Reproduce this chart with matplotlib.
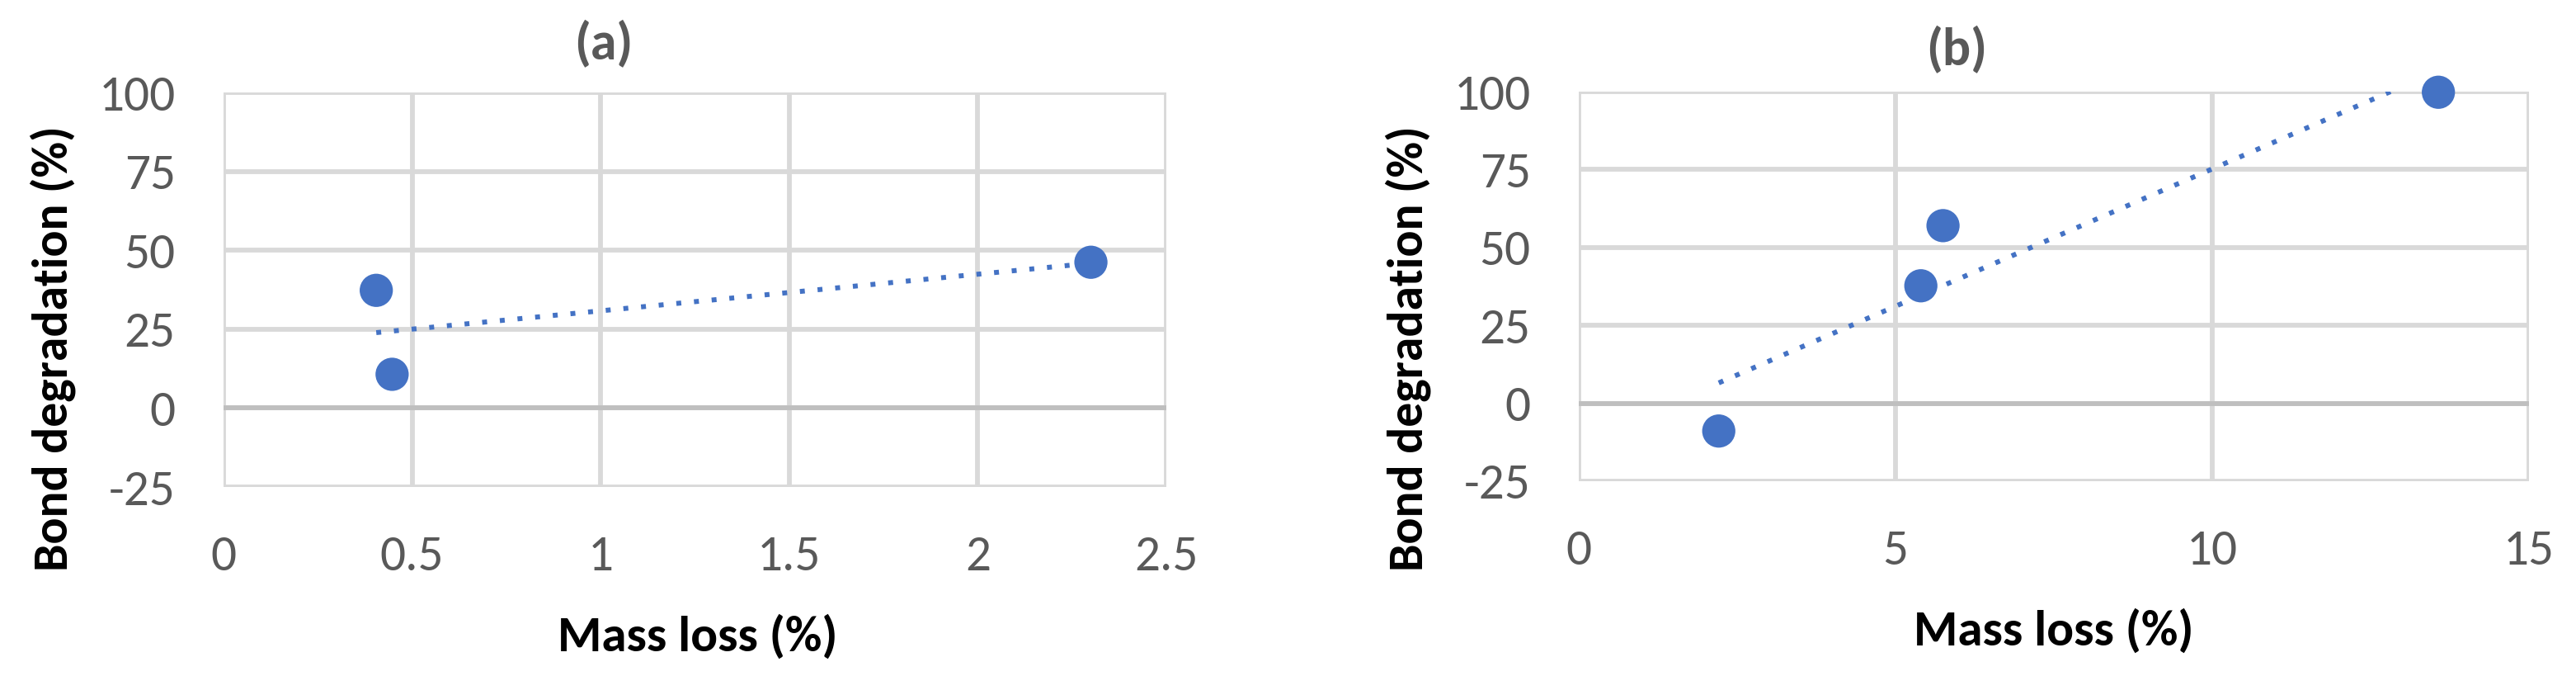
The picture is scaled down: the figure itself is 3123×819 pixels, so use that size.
import matplotlib
matplotlib.use("Agg")
import matplotlib.pyplot as plt
import numpy as np

# data
mass_loss_a = [0.405, 0.447, 2.30]
bond_deg_a = [37.3, 10.7, 46.2]
mass_loss_b = [2.21, 5.40, 5.75, 13.57]
bond_deg_b = [-8.9, 37.7, 57.0, 99.8]

xticks_a = [0, 0.5, 1, 1.5, 2, 2.5]
xtick_labels_a = ['0', '0.5', '1', '1.5', '2', '2.5']
xticks_b = [0, 5, 10, 15]
yticks = [-25, 0, 25, 50, 75, 100]

BLUE = '#4472C4'
GRID = '#d9d9d9'
TXT = '#595959'
NARROW = ['Carlito', 'Fira Sans Condensed', 'DejaVu Sans']

W, H = 3123, 819
fig = plt.figure(figsize=(W / 100, H / 100), dpi=100)


def px_axes(l, t, r, b):
    return fig.add_axes([l / W, 1 - b / H, (r - l) / W, (b - t) / H])


def panel(ax, x, y, xlim, xticks, xlabels):
    ax.set_xlim(*xlim)
    ax.set_ylim(-25, 100)
    ax.set_xticks(xticks)
    ax.set_xticklabels(xlabels)
    ax.set_yticks(yticks)
    ax.set_yticklabels([str(v) for v in yticks])
    for s in ax.spines.values():
        s.set_visible(False)
    ax.grid(True, color=GRID, linewidth=4.2, zorder=0)
    ax.set_axisbelow(True)
    ax.axhline(0, color='#bfbfbf', linewidth=4.2, zorder=1)
    ax.tick_params(length=0, labelsize=44, labelcolor=TXT, pad=42)
    for lab in ax.get_xticklabels() + ax.get_yticklabels():
        lab.set_family(NARROW)
    # linear trendline (Excel style), clipped by the axes
    k, c = np.polyfit(x, y, 1)
    xs = np.array([min(x), max(x)])
    ax.plot(xs, k * xs + c, color=BLUE, linewidth=4.3,
            dashes=(1, 2.6), dash_capstyle='butt', zorder=2)
    ax.scatter(x, y, s=840, color=BLUE, edgecolors='none', zorder=3,
               clip_on=False)


ax_a = px_axes(271, 112, 1414, 590)
panel(ax_a, mass_loss_a, bond_deg_a, (0, 2.5), xticks_a, xtick_labels_a)

ax_b = px_axes(1914, 111, 3066, 583)
panel(ax_b, mass_loss_b, bond_deg_b, (0, 15), xticks_b,
      [str(v) for v in xticks_b])

# titles and axis labels placed in pixel positions
fig.text(732 / W, 1 - 53 / H, '(a)', ha='center', va='center',
         fontsize=46, fontweight='bold', color=TXT, family=NARROW)
fig.text(2372 / W, 1 - 60 / H, '(b)', ha='center', va='center',
         fontsize=46, fontweight='bold', color=TXT, family=NARROW)

for xc, yc in [(64, 422), (1707, 422)]:
    fig.text(xc / W, 1 - yc / H, 'Bond degradation (%)', rotation=90,
             ha='center', va='center', fontsize=43, fontweight='bold',
             color='black', family=NARROW)

for xc, yc in [(846, 772), (2490, 765)]:
    fig.text(xc / W, 1 - yc / H, 'Mass loss (%)', ha='center', va='center',
             fontsize=44, fontweight='bold', color='black', family=NARROW)

fig.savefig('out.png', dpi=100, facecolor='white')
